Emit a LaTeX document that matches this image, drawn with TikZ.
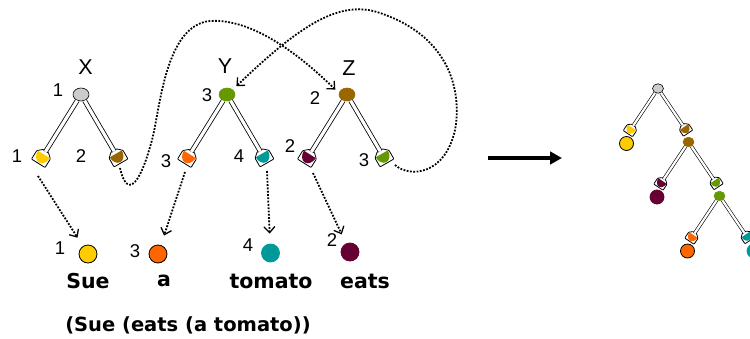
\documentclass[tikz,border=0pt]{standalone}
\usepackage{fontspec}
\setmainfont{Liberation Sans}
\newfontfamily\wordfont{DejaVu Sans}
\usetikzlibrary{arrows.meta,shapes.geometric}

\definecolor{rootgray}{HTML}{CCCCCC}
\definecolor{sueyellow}{HTML}{FFCC00}
\definecolor{xbrown}{HTML}{996600}
\definecolor{agreen}{HTML}{669900}
\definecolor{aorange}{HTML}{FF6600}
\definecolor{ateal}{HTML}{009999}
\definecolor{amaroon}{HTML}{660033}

\tikzset{
  root/.style={ellipse, fill=#1, minimum width=16pt, minimum height=13pt, inner sep=0pt, line width=0.6pt},
  leaf/.style={circle, fill=#1, minimum size=18pt, inner sep=0pt, line width=0.8pt},
  arm/.style={line width=0.8pt, double=white, double distance=3.2pt, shorten >=5.5pt},
  small arm/.style={line width=0.6pt, double=white, double distance=2.2pt, shorten >=3.8pt},
  ptr/.style={line width=1.8pt, dash pattern=on 1.8pt off 1.5pt,
    -{Straight Barb[length=6pt,width=11pt,line width=1.3pt]}},
  num/.style={font=\fontsize{18.5}{20}\selectfont, inner sep=0pt},
  tag/.style={font=\fontsize{21.5}{24}\selectfont, inner sep=0pt},
  word/.style={font=\wordfont\bfseries\fontsize{20.5}{24}\selectfont, inner sep=0pt, anchor=base},
  sentence/.style={font=\wordfont\bfseries\fontsize{19.5}{22}\selectfont, inner sep=0pt, anchor=base},
}

% socket at the end of an arm: #1 scale, #2 name, #3 position, #4 direction of the arm, #5 colour
\newcommand{\sockt}[5][1]{%
  \coordinate (#2) at (#3);
  \begin{scope}[shift={(#3)}, rotate=#4, scale=#1]
    \draw[line width=0.8pt, fill=white, rounded corners=0.8pt]
      (-8,-8) -- (2,-8) -- (6.5,-3) -- (6.5,3) -- (2,8) -- (-8,8) -- cycle;
    \begin{scope}
      \clip (-9,-9) rectangle (2.5,9);
      \fill[#5] (2.5,0) ellipse [x radius=9.5, y radius=7];
    \end{scope}
  \end{scope}}

\begin{document}
\begin{tikzpicture}[x=1pt, y=-1pt]
  \useasboundingbox (0,0) rectangle (750,338);
  \clip (0,0) rectangle (750,338);

  % trees X, Y and Z
  \foreach \t/\x/\rootcol/\linecol/\lcol/\rcol in {X/81/rootgray/black/sueyellow/xbrown, Y/227/agreen/agreen/aorange/ateal, Z/347/xbrown/xbrown/amaroon/agreen} {
    \node[root=\rootcol, draw=\linecol] (root\t) at (\x,94.5) {};
    \sockt{left\t}{\x-38.5,156.5}{58}{\lcol}
    \sockt{right\t}{\x+36,156}{120}{\rcol}
    \draw[arm] (root\t) -- (left\t);
    \draw[arm] (root\t) -- (right\t);
  }
  \node[tag] (nameX) at (85.5,67) {X};
  \node[tag] (nameY) at (225,66.5) {Y};
  \node[tag] (nameZ) at (349,68) {Z};

  \foreach \x/\y/\n [count=\i] in {58/90/1, 17/156/1, 81/156/2, 207/95/3, 166/161/3, 239/156/4,
      315/98/2, 290/146/2, 364/160.5/3, 60/248/1, 135/251.5/3, 248/245/4, 332/240/2}
    \node[num] (num\i) at (\x,\y) {\n};

  % words
  \foreach \n/\x/\y/\col/\ol in {sue/88/254/sueyellow/black, a/158/254/aorange/black,
      tomato/270.5/253/ateal/ateal, eats/350/252/amaroon/amaroon}
    \node[leaf=\col, draw=\ol] (leaf\n) at (\x,\y) {};
  \node[word] (wsue) at (88,288) {Sue};
  \node[word] (wa) at (164,286.5) {a};
  \node[word] (wtomato) at (271,288) {tomato};
  \node[word] (weats) at (365,288) {eats};
  \node[sentence] (bracketing) at (188,331) {(Sue (eats (a tomato))};

  % pointers
  \coordinate (tailX) at (38,176);
  \coordinate (tailY) at (185,172);
  \coordinate (tailYr) at (267,171);
  \coordinate (tailZ) at (313,173);
  \draw[ptr, shorten >=10pt] (tailX) -- (leafsue);
  \draw[ptr, shorten >=10pt] (tailY) -- (leafa);
  \draw[ptr, shorten >=10pt] (tailYr) -- (leaftomato);
  \draw[ptr, shorten >=10pt] (tailZ) -- (leafeats);

  \coordinate (tailXr) at (120,168);
  \coordinate (tailZr) at (395,165);
  \draw[ptr, shorten >=5pt] (tailXr) .. controls (126,195) and (138,192) .. (152,140)
    .. controls (160,110) and (165,25) .. (210,21)
    .. controls (255,18) and (305,60) .. (rootZ.170);
  \draw[ptr, shorten >=5pt] (tailZr) .. controls (410,178) and (445,175) .. (455,130)
    .. controls (460,105) and (460,40) .. (380,13)
    .. controls (340,-1) and (300,25) .. (rootY.40);

  % fold
  \coordinate (foldfrom) at (488,158);
  \coordinate (foldto) at (562,158);
  \draw[line width=4.3pt, -{Triangle[length=12pt,width=12.5pt]}] (foldfrom) -- (foldto);

  % folded tree
  \foreach \t/\x/\y/\rootcol/\linecol/\lcol/\rcol in {1/658/88.5/rootgray/black/sueyellow/xbrown,
      2/688.5/142/xbrown/xbrown/amaroon/agreen, 3/719.5/196/agreen/agreen/aorange/ateal} {
    \node[root=\rootcol, draw=\linecol, minimum width=11pt, minimum height=9.5pt] (froot\t) at (\x,\y) {};
    \sockt[0.7]{fleft\t}{\x-27,\y+40.5}{56}{\lcol}
    \sockt[0.7]{fright\t}{\x+27,\y+40}{124}{\rcol}
    \draw[small arm] (froot\t) -- (fleft\t);
    \draw[small arm] (froot\t) -- (fright\t);
  }
  \foreach \n/\x/\y/\col/\ol in {sue/626.5/143.5/sueyellow/black, eats/657/197/amaroon/amaroon,
      a/687.5/251/aorange/black, tomato/754/251/ateal/ateal}
    \node[leaf=\col, draw=\ol, minimum size=14pt] (fleaf\n) at (\x,\y) {};
\end{tikzpicture}
\end{document}
